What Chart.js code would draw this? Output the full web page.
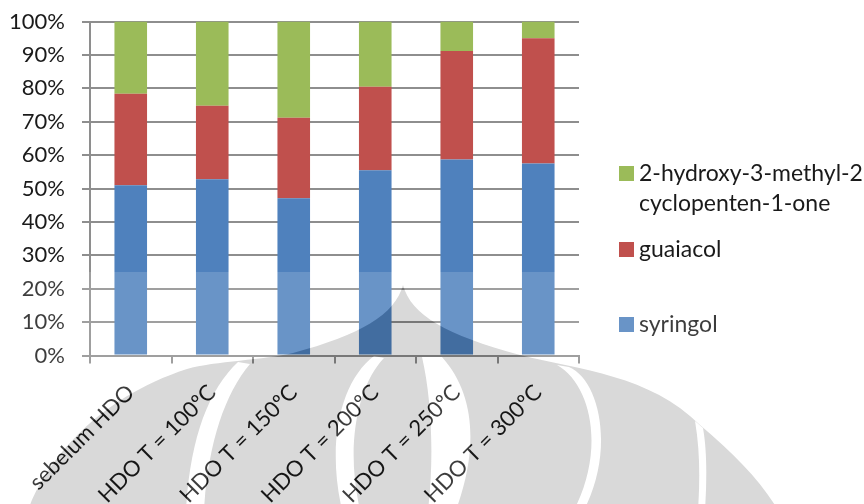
<!DOCTYPE html>
<html>
<head>
<meta charset="utf-8">
<script src="https://cdn.jsdelivr.net/npm/chart.js@4.4.1/dist/chart.umd.min.js"></script>
<style>
  html, body { margin: 0; padding: 0; background: #fff; }
  #wrap { position: relative; width: 864px; height: 504px; }
  canvas { display: block; }
</style>
</head>
<body>
<div id="wrap"><canvas id="c" width="864" height="504"></canvas></div>
<script>
// Composition of the phenolic products (% of total)
const categories = ['sebelum HDO', 'HDO T = 100ºC', 'HDO T = 150ºC', 'HDO T = 200ºC', 'HDO T = 250ºC', 'HDO T = 300ºC'];
const syringol = [51.0, 52.8, 47.1, 55.5, 58.7, 57.5];
const guaiacol = [27.4, 22.0, 24.1, 25.0, 32.5, 37.5];
const cyclopentenone = [21.6, 25.2, 28.8, 19.5, 8.8, 5.0];
const seriesNames = [['syringol'], ['guaiacol'], ['2-hydroxy-3-methyl-2', 'cyclopenten-1-one']];
const yTickValues = [0, 10, 20, 30, 40, 50, 60, 70, 80, 90, 100];

const FONT = '"Lato", "Liberation Sans", sans-serif';
const TEXT = '#1a1a1a';
const GRID = '#8e8e8e';

// Side legend, series listed top-down in reverse stacking order
const sideLegend = {
  id: 'sideLegend',
  afterDraw(chart) {
    const ctx = chart.ctx;
    const rows = [173, 249, 324];
    const sets = chart.data.datasets.slice().reverse();
    ctx.save();
    ctx.font = '23px ' + FONT;
    ctx.textBaseline = 'middle';
    ctx.textAlign = 'left';
    sets.forEach((ds, i) => {
      const cy = rows[i];
      ctx.fillStyle = ds.backgroundColor;
      ctx.fillRect(619, cy - 7, 15, 15);
      ctx.fillStyle = TEXT;
      ds.legendLines.forEach((line, k) => ctx.fillText(line, 639, cy + 1 + k * 30));
    });
    ctx.restore();
  }
};

// Faint emblem printed over the lower part of the page
function silhouette(m) {
  m.beginPath();
  m.moveTo(28, 510);
  m.bezierCurveTo(45, 465, 92, 400, 187, 369);
  m.bezierCurveTo(215, 361, 265, 360, 293, 353);
  m.bezierCurveTo(360, 335, 395, 315, 403, 285);
  m.bezierCurveTo(411, 315, 446, 335, 520, 355);
  m.bezierCurveTo(580, 370, 650, 375, 700, 425);
  m.bezierCurveTo(735, 455, 760, 480, 778, 510);
  m.closePath();
}
const gaps = [
  m => { m.beginPath(); m.moveTo(238, 362); m.bezierCurveTo(208, 390, 190, 440, 186, 510); m.lineTo(204, 510); m.bezierCurveTo(208, 445, 224, 395, 250, 364); m.closePath(); },
  m => { m.beginPath(); m.moveTo(374, 356); m.bezierCurveTo(342, 380, 326, 440, 342, 510); m.lineTo(360, 510); m.bezierCurveTo(345, 445, 358, 385, 384, 358); m.closePath(); },
  m => { m.beginPath(); m.moveTo(422, 357); m.bezierCurveTo(432, 400, 434, 460, 428, 510); m.lineTo(456, 510); m.bezierCurveTo(478, 450, 476, 395, 442, 357); m.closePath(); },
  m => { m.beginPath(); m.moveTo(557, 365); m.bezierCurveTo(592, 385, 605, 450, 574, 510); m.lineTo(584, 510); m.bezierCurveTo(615, 450, 600, 380, 569, 367); m.closePath(); },
  m => { m.beginPath(); m.moveTo(695, 421); m.bezierCurveTo(700, 450, 700, 480, 698, 510); m.lineTo(705, 510); m.bezierCurveTo(707, 480, 707, 450, 703, 428); m.closePath(); }
];
const emblem = {
  id: 'emblem',
  afterDraw(chart) {
    const W = chart.width, H = chart.height;
    const mark = document.createElement('canvas');
    mark.width = W; mark.height = H;
    const m = mark.getContext('2d');
    m.fillStyle = '#000';
    silhouette(m); m.fill();
    m.globalCompositeOperation = 'destination-out';
    gaps.forEach(g => { g(m); m.fill(); });

    const veil = document.createElement('canvas');
    veil.width = W; veil.height = H;
    const v = veil.getContext('2d');
    v.fillStyle = '#fff';
    v.fillRect(0, 272, W, H - 272);
    v.globalCompositeOperation = 'destination-out';
    v.drawImage(mark, 0, 0);

    const ctx = chart.ctx;
    ctx.save();
    ctx.globalAlpha = 0.15;
    ctx.drawImage(veil, 0, 0);
    ctx.drawImage(mark, 0, 0);
    ctx.restore();
  }
};

function build() {
  new Chart(document.getElementById('c'), {
    type: 'bar',
    data: {
      labels: categories,
      datasets: [
        { label: seriesNames[0].join(' '), legendLines: seriesNames[0], data: syringol, backgroundColor: '#4f81bd' },
        { label: seriesNames[1].join(' '), legendLines: seriesNames[1], data: guaiacol, backgroundColor: '#c0504d' },
        { label: seriesNames[2].join(' '), legendLines: seriesNames[2], data: cyclopentenone, backgroundColor: '#9bbb59' }
      ]
    },
    options: {
      responsive: false,
      animation: false,
      events: [],
      layout: { padding: { top: 21.5, right: 285, left: 0, bottom: 0 } },
      datasets: { bar: { barPercentage: 0.4, categoryPercentage: 1.0, borderWidth: 0 } },
      plugins: { legend: { display: false }, tooltip: { enabled: false } },
      scales: {
        x: {
          stacked: true,
          afterFit(scale) { scale.height = 148.5; },
          grid: { display: true, drawOnChartArea: false, drawTicks: true, tickLength: 8, color: GRID, lineWidth: 2, offset: true },
          border: { display: true, color: GRID, width: 2 },
          ticks: { color: TEXT, font: { family: FONT, size: 22 }, minRotation: 45, maxRotation: 45, autoSkip: false, padding: 16 }
        },
        y: {
          stacked: true,
          min: 0,
          max: 100,
          afterFit(scale) { scale.width = 90; scale.paddingTop = 0; scale.paddingBottom = 0; },
          afterBuildTicks(scale) { scale.ticks = yTickValues.map(v => ({ value: v })); },
          grid: { color: GRID, lineWidth: 2, drawTicks: true, tickLength: 8 },
          border: { display: true, color: GRID, width: 2 },
          ticks: { color: TEXT, font: { family: FONT, size: 22 }, padding: 17, callback: v => v + '%' }
        }
      }
    },
    plugins: [sideLegend, emblem]
  });
}

if (document.fonts && document.fonts.load) {
  document.fonts.load('22px Lato').then(build, build);
} else {
  build();
}
</script>
</body>
</html>
